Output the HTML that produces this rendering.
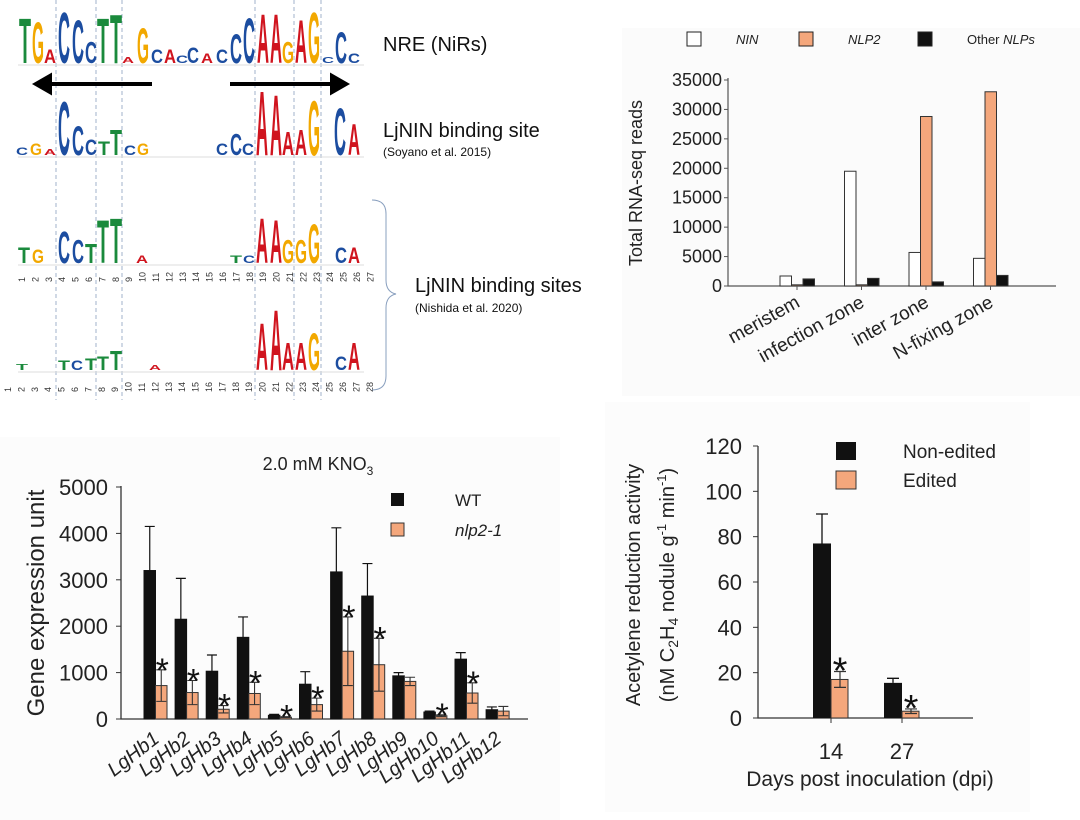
<!DOCTYPE html>
<html><head><meta charset="utf-8"><style>
html,body{margin:0;padding:0;background:#fff;}
svg{display:block;font-family:"Liberation Sans",sans-serif;}
</style></head><body>
<svg id="fig" width="1080" height="820" viewBox="0 0 1080 820">
<rect x="622" y="28" width="458" height="368" fill="#fbfbfb"/>
<rect x="0" y="437" width="560" height="383" fill="#fcfcfc"/>
<rect x="605" y="402" width="425" height="410" fill="#fcfcfc"/>
<g id="logos"></g>
<g id="c1"></g>
<g id="c2"></g>
<g id="c3"></g>
</svg>
<script>
// ---------- Chart 1 data (RNA-seq) ----------
const zones = ["meristem","infection zone","inter zone","N-fixing zone"];
const ninVals = [1700,19500,5700,4700];
const nlp2Vals = [200,200,28800,33000];
const otherVals = [1200,1300,700,1800];
const c1Ticks = [0,5000,10000,15000,20000,25000,30000,35000];
// ---------- Chart 2 data (LgHb) ----------
const genes = ["LgHb1","LgHb2","LgHb3","LgHb4","LgHb5","LgHb6","LgHb7","LgHb8","LgHb9","LgHb10","LgHb11","LgHb12"];
const wtVals = [3200,2150,1030,1760,80,750,3170,2650,930,150,1290,200];
const wtErr = [950,880,350,440,20,270,950,700,70,20,140,60];
const nlpVals = [720,570,210,550,40,310,1460,1170,810,70,560,170];
const nlpErr = [340,260,80,240,10,140,740,570,90,20,220,100];
const nlpStar = [1,1,1,1,1,1,1,1,0,1,1,0];
const c2Ticks = [0,1000,2000,3000,4000,5000];
// ---------- Chart 3 data (acetylene) ----------
const dpi = ["14","27"];
const nonEdited = [77,15.5];
const nonEditedErr = [13,2];
const edited = [17,3];
const editedErr = [3.5,1];
const c3Ticks = [0,20,40,60,80,100,120];

const NS="http://www.w3.org/2000/svg";
function mk(parent,tag,attrs,text){const e=document.createElementNS(NS,tag);for(const k in attrs)e.setAttribute(k,attrs[k]);if(text!==undefined)e.textContent=text;parent.appendChild(e);return e;}
const ORANGE="#f4a77c";

// ================= Chart 1 =================
(function(){
const g=document.getElementById('c1');
const x0=728,x1=1056,y0=286,yTop=80,yMax=35000;
const ys=v=>y0-(v/yMax)*(y0-yTop);
const cx=i=>797+i*64.5;
const bw=11.5;
c1Ticks.forEach(t=>{
 const tl=mk(g,'text',{x:722,y:ys(t)+6,'text-anchor':'end','font-size':18,fill:'#222'},String(t));
 
 
 const tk=mk(g,'line',{x1:x0-4,x2:x0,y1:ys(t),y2:ys(t),stroke:'#555'});
 
 
});
const ax=mk(g,'path',{d:`M${x0} ${yTop-2}V${y0}H${x1}`,fill:'none',stroke:'#555','stroke-width':1.2});


zones.forEach((z,i)=>{
 const c=cx(i);
 const series=[[ninVals[i],'#fff','bar-nin'],[nlp2Vals[i],ORANGE,'bar-nlp2'],[otherVals[i],'#111','bar-other-nlps']];
 series.forEach((s,j)=>{
  const x=c-17+j*bw;
  const r=mk(g,'rect',{x:x,y:ys(s[0]),width:bw,height:y0-ys(s[0]),fill:s[1],stroke:'#333','stroke-width':1});
  
  
 });
 const tk=mk(g,'line',{x1:c,x2:c,y1:y0,y2:y0+4,stroke:'#555'});
 
 
 const l=mk(g,'text',{x:c+4,y:y0+20,'text-anchor':'end','font-size':19,fill:'#222',transform:`rotate(-29 ${c+4} ${y0+20})`},z);
 
 
});
const yt=mk(g,'text',{x:642,y:183,'text-anchor':'middle','font-size':18,fill:'#222',transform:'rotate(-90 642 183)'},'Total RNA-seq reads');


const leg=[[687,'#fff'],[799,ORANGE],[918,'#111']];
leg.forEach(l=>{
 const r=mk(g,'rect',{x:l[0],y:32,width:14,height:14,fill:l[1],stroke:'#222'});
 
 
});
const t1=mk(g,'text',{x:736,y:44,'font-size':13,'font-style':'italic',fill:'#222'},'NIN');


const t2=mk(g,'text',{x:848,y:44,'font-size':13,'font-style':'italic',fill:'#222'},'NLP2');


const t3=mk(g,'text',{x:967,y:44,'font-size':13,fill:'#222'},'Other ');


mk(t3,'tspan',{'font-style':'italic'},'NLPs');
})();

// ================= Chart 2 =================
(function(){
const g=document.getElementById('c2');
const x0=121,x1=528,y0=719,yTop=487,yMax=5000;
const ys=v=>y0-(v/yMax)*(y0-yTop);
const cx=i=>155.5+i*31.1;
const bw=11.5;
c2Ticks.forEach(t=>{
 const tl=mk(g,'text',{x:108,y:ys(t)+8,'text-anchor':'end','font-size':22,fill:'#222'},String(t));
 
 
 const tk=mk(g,'line',{x1:x0-5,x2:x0,y1:ys(t),y2:ys(t),stroke:'#333'});
 
 
});
const ax=mk(g,'path',{d:`M${x0} ${yTop-1}V${y0}H${x1}`,fill:'none',stroke:'#333','stroke-width':1.3});


genes.forEach((n,i)=>{
 const c=cx(i);
 const wb=mk(g,'rect',{x:c-bw,y:ys(wtVals[i]),width:bw,height:y0-ys(wtVals[i]),fill:'#111',stroke:'#111'});
 
 
 const we=mk(g,'path',{d:`M${c-bw/2} ${ys(wtVals[i])}V${ys(wtVals[i]+wtErr[i])}M${c-bw/2-5} ${ys(wtVals[i]+wtErr[i])}h10`,stroke:'#111','stroke-width':1.2,fill:'none'});
 
 
 const nb=mk(g,'rect',{x:c,y:ys(nlpVals[i]),width:bw,height:y0-ys(nlpVals[i]),fill:ORANGE,stroke:'#333','stroke-width':1});
 
 
 const hi=ys(nlpVals[i]+nlpErr[i]),lo=ys(Math.max(0,nlpVals[i]-nlpErr[i]));
 const ne=mk(g,'path',{d:`M${c+bw/2} ${hi}V${lo}M${c+bw/2-5} ${hi}h10M${c+bw/2-5} ${lo}h10`,stroke:'#333','stroke-width':1.1,fill:'none'});
 
 
 if(nlpStar[i]){
  const s=mk(g,'text',{x:c+bw/2+1,y:hi+12,'text-anchor':'middle','font-size':34,fill:'#111'},'*');
  
  
 }
 const l=mk(g,'text',{x:c+5,y:y0+22,'text-anchor':'end','font-size':20,'font-style':'italic',fill:'#222',transform:`rotate(-38 ${c+5} ${y0+22})`},n);
 
 
});
const yt=mk(g,'text',{x:44,y:603,'text-anchor':'middle','font-size':24,fill:'#222',transform:'rotate(-90 44 603)'},'Gene expression unit');


const tt=mk(g,'text',{x:318,y:470,'text-anchor':'middle','font-size':18,fill:'#222'},'2.0 mM KNO');


mk(tt,'tspan',{'font-size':12,dy:5},'3');
const s1=mk(g,'rect',{x:391,y:493,width:13,height:13,fill:'#111'});


const s2=mk(g,'rect',{x:391,y:523,width:13,height:13,fill:ORANGE,stroke:'#333'});


const l1=mk(g,'text',{x:455,y:506,'font-size':17,fill:'#222'},'WT');


const l2=mk(g,'text',{x:455,y:536,'font-size':17,'font-style':'italic',fill:'#222'},'nlp2-1');


})();

// ================= Chart 3 =================
(function(){
const g=document.getElementById('c3');
const x0=758,x1=973,y0=718,yTop=446,yMax=120;
const ys=v=>y0-(v/yMax)*(y0-yTop);
const cx=i=>831+i*71;
const bw=18;
c3Ticks.forEach(t=>{
 const tl=mk(g,'text',{x:742,y:ys(t)+8,'text-anchor':'end','font-size':22,fill:'#222'},String(t));
 
 
 const tk=mk(g,'line',{x1:x0-5,x2:x0,y1:ys(t),y2:ys(t),stroke:'#333'});
 
 
});
const ax=mk(g,'path',{d:`M${x0} ${yTop}V${y0}H${x1}`,fill:'none',stroke:'#333','stroke-width':1.3});


dpi.forEach((d,i)=>{
 const c=cx(i);
 const b=mk(g,'rect',{x:c-bw,y:ys(nonEdited[i]),width:bw,height:y0-ys(nonEdited[i]),fill:'#111'});
 
 
 const e=mk(g,'path',{d:`M${c-bw/2} ${ys(nonEdited[i])}V${ys(nonEdited[i]+nonEditedErr[i])}M${c-bw/2-6} ${ys(nonEdited[i]+nonEditedErr[i])}h12`,stroke:'#111','stroke-width':1.3,fill:'none'});
 
 
 const o=mk(g,'rect',{x:c,y:ys(edited[i]),width:bw-1,height:y0-ys(edited[i]),fill:ORANGE,stroke:'#333'});
 
 
 const hi=ys(edited[i]+editedErr[i]),lo=ys(edited[i]-editedErr[i]);
 const oe=mk(g,'path',{d:`M${c+bw/2} ${hi}V${lo}M${c+bw/2-6} ${hi}h12M${c+bw/2-6} ${lo}h12`,stroke:'#333','stroke-width':1.2,fill:'none'});
 
 
 const s=mk(g,'text',{x:c+bw/2,y:hi+12,'text-anchor':'middle','font-size':38,fill:'#111'},'*');
 
 
 const tk=mk(g,'line',{x1:c,x2:c,y1:y0,y2:y0+5,stroke:'#333'});
 
 
 const l=mk(g,'text',{x:c,y:759,'text-anchor':'middle','font-size':22,fill:'#222'},d);
 
 
});
const xt=mk(g,'text',{x:870,y:786,'text-anchor':'middle','font-size':21,fill:'#222'},'Days post inoculation (dpi)');


const yt1=mk(g,'text',{x:640,y:585,'text-anchor':'middle','font-size':20,fill:'#222',transform:'rotate(-90 640 585)'},'Acetylene reduction activity');


const yt2=mk(g,'text',{x:674,y:585,'text-anchor':'middle','font-size':20,fill:'#222',transform:'rotate(-90 674 585)'},'(nM C');


mk(yt2,'tspan',{'font-size':14,dy:4},'2');
mk(yt2,'tspan',{dy:-4},'H');
mk(yt2,'tspan',{'font-size':14,dy:4},'4');
mk(yt2,'tspan',{dy:-4},' nodule g');
mk(yt2,'tspan',{'font-size':13,dy:-8},'-1');
mk(yt2,'tspan',{dy:8},' min');
mk(yt2,'tspan',{'font-size':13,dy:-8},'-1');
mk(yt2,'tspan',{dy:8},')');
const s1=mk(g,'rect',{x:836,y:442,width:20,height:18,fill:'#111'});


const s2=mk(g,'rect',{x:836,y:471,width:20,height:18,fill:ORANGE,stroke:'#333'});


const l1=mk(g,'text',{x:903,y:458,'font-size':19,fill:'#222'},'Non-edited');


const l2=mk(g,'text',{x:903,y:487,'font-size':19,fill:'#222'},'Edited');


})();

// ================= Sequence logos =================
const COL={A:'#d0141e',C:'#1c4da0',G:'#f2a800',T:'#1a8a3c'};
const logoRow1 = [[25,'T',46],[38,'G',42],[50,'A',14],[64,'C',52],[78,'C',44],[91,'C',22],[103,'T',46],[116,'T',50],[128,'A',6],[143,'G',36],[157,'C',14],[170,'A',14],[182,'C',8],[193,'C',16],[207,'A',10],[222,'C',14],[236,'C',30],[249,'C',46],[263,'A',50],[276,'A',50],[288,'G',22],[301,'A',44],[314,'G',52],[328,'C',6],[341,'C',32],[354,'C',10]];
const logoRow2 = [[22,'C',8],[36,'G',12],[50,'A',6],[64,'C',55],[78,'C',30],[91,'C',16],[104,'T',14],[116,'T',26],[130,'C',10],[143,'G',12],[222,'C',12],[236,'C',22],[248,'C',12],[262,'A',66],[276,'A',62],[288,'A',24],[301,'A',26],[314,'G',56],[340,'C',48],[354,'A',32]];
const logoRow3 = [[24,'T',16],[38,'G',14],[64,'C',33],[78,'C',24],[91,'T',20],[103,'T',44],[116,'T',46],[142,'A',8],[236,'T',8],[249,'C',8],[262,'A',46],[276,'A',44],[288,'G',24],[301,'G',24],[314,'G',40],[341,'C',16],[354,'A',16]];
const logoRow4 = [[22,'T',6],[64,'T',10],[77,'C',10],[91,'T',12],[103,'T',14],[116,'T',20],[155,'A',5],[262,'A',48],[276,'A',62],[288,'A',28],[301,'A',28],[314,'G',38],[341,'C',14],[354,'A',28]];
(function(){
const g=document.getElementById('logos');
[56,96,122,255,294,321].forEach(x=>{
 const l=mk(g,'line',{x1:x,x2:x,y1:0,y2:400,stroke:'#8aa0bf','stroke-width':0.8,'stroke-dasharray':'4 3'});
 
 
});
function row(items,base,name){
 const rg=mk(g,'g',{});
 
 
 items.forEach(it=>{
  const fs=it[2]/0.72;
  const t=mk(rg,'text',{x:it[0]-6,y:base,'font-size':fs.toFixed(1),'font-weight':'bold',fill:COL[it[1]],textLength:12,lengthAdjust:'spacingAndGlyphs'},it[1]);
  
  
 });
 const bl=mk(rg,'line',{x1:18,x2:364,y1:base+2,y2:base+2,stroke:'#ddd','stroke-width':1});
 
 
}
row(logoRow1,63,'logo-nre');
row(logoRow2,155,'logo-soyano');
row(logoRow3,263,'logo-nishida-1');
row(logoRow4,370,'logo-nishida-2');
for(let i=1;i<=27;i++){const x=22+(i-1)*13.4;const t=mk(g,'text',{x:x+3,y:282,'font-size':9,fill:'#333',transform:`rotate(-90 ${x+3} 282)`},String(i));}
for(let i=1;i<=28;i++){const x=8+(i-1)*13.4;const t=mk(g,'text',{x:x+3,y:392,'font-size':9,fill:'#333',transform:`rotate(-90 ${x+3} 392)`},String(i));}
const a1=mk(g,'path',{d:'M152 84H36M36 84l14-8v16z',stroke:'#000','stroke-width':4,fill:'#000'});


const a2=mk(g,'path',{d:'M230 84H346M346 84l-14-8v16z',stroke:'#000','stroke-width':4,fill:'#000'});


const br=mk(g,'path',{d:'M372 200Q386 200 386 214V280Q386 292 396 294Q386 296 386 308V376Q386 390 372 390',stroke:'#8aa0bf','stroke-width':1,fill:'none'});


const texts=[[383,51,20,'NRE (NiRs)','label-nre'],[383,137,20,'LjNIN binding site','label-ljnin-site'],[383,156,12,'(Soyano et al. 2015)','label-soyano'],[415,292,20,'LjNIN binding sites','label-ljnin-sites'],[415,312,12,'(Nishida et al. 2020)','label-nishida']];
texts.forEach(t=>{const e=mk(g,'text',{x:t[0],y:t[1],'font-size':t[2],fill:'#111'},t[3]);});
})();
</script>
</body></html>
